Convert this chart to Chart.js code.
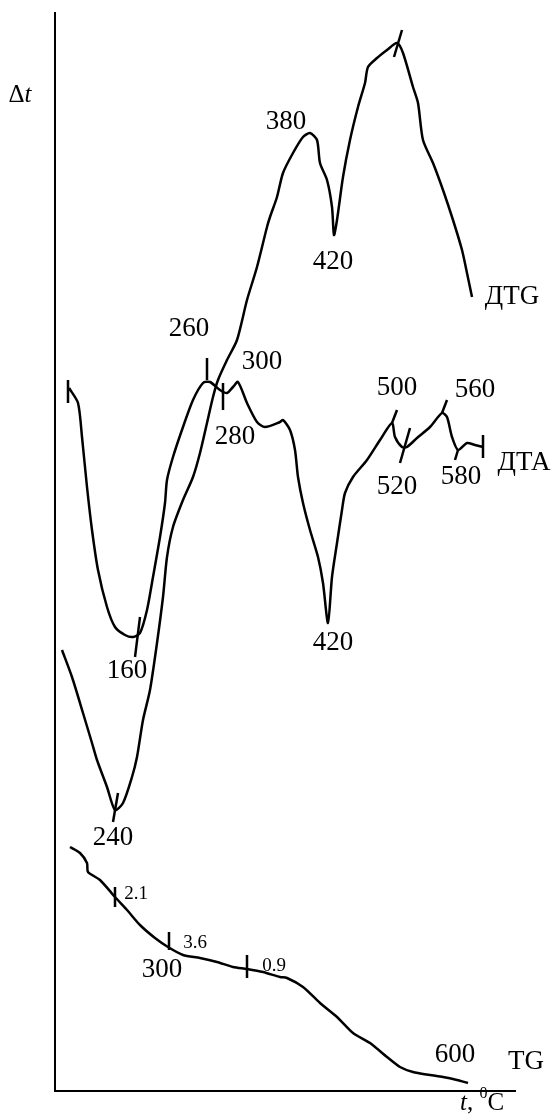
<!DOCTYPE html>
<html>
<head>
<meta charset="utf-8">
<script src="https://cdn.jsdelivr.net/npm/chart.js@4.4.1/dist/chart.umd.min.js"></script>
<style>
  html, body { margin: 0; padding: 0; background: #fff; }
  canvas { display: block; }
</style>
</head>
<body>
<canvas id="graph" width="556" height="1115"></canvas>
<script>
// curves in arbitrary units: x = temperature axis, y = signal height above baseline
const dtaCurve = [
  [14, 703], [23, 688], [27, 654], [32, 604], [37, 561], [43, 521], [52, 484],
  [60, 464], [70, 456], [78, 454], [85, 458], [92, 481], [98, 514], [105, 554],
  [110, 588], [112, 611], [118, 634], [128, 664], [138, 691], [148, 708],
  [155, 709], [165, 701], [172, 698], [178, 704], [183, 709], [192, 688],
  [202, 669], [210, 664], [225, 669], [228, 671], [235, 661], [240, 641],
  [243, 614], [248, 588], [255, 561], [263, 534], [268, 508], [273, 468],
  [277, 514], [282, 548], [287, 581], [290, 598], [298, 614], [312, 631],
  [325, 651], [337, 668], [340, 654], [347, 644], [352, 644], [362, 653],
  [375, 664], [387, 678], [392, 674], [397, 654], [403, 641], [412, 648],
  [420, 646], [428, 644]
];

const dtgCurve = [
  [7, 441], [17, 414], [28, 378], [37, 348], [42, 331], [52, 304], [60, 281],
  [68, 288], [77, 314], [82, 334], [88, 371], [95, 401], [102, 448], [108, 494],
  [112, 534], [118, 564], [128, 591], [138, 614], [145, 638], [152, 668],
  [158, 694], [163, 711], [172, 731], [182, 751], [192, 791], [202, 824],
  [212, 864], [215, 874], [222, 894], [228, 918], [238, 938], [248, 954],
  [255, 958], [262, 951], [265, 928], [272, 911], [277, 884], [279, 856],
  [282, 871], [288, 914], [295, 951], [303, 984], [310, 1008], [313, 1024],
  [322, 1033], [332, 1041], [342, 1048], [348, 1038], [358, 1004], [363, 988],
  [368, 951], [378, 928], [388, 901], [398, 871], [407, 841], [412, 818],
  [417, 794]
];

const tgCurve = [
  [15, 244], [25, 238], [32, 228], [33, 219], [45, 211], [60, 194], [72, 181],
  [85, 166], [100, 153], [113, 144], [128, 136], [145, 133], [162, 129],
  [178, 124], [192, 122], [208, 119], [225, 114], [232, 113], [248, 104],
  [265, 88], [282, 74], [298, 58], [315, 48], [332, 34], [345, 24], [358, 19],
  [375, 16], [388, 14], [402, 11], [413, 8]
];

// short marker strokes across the curves: [x1, y1, x2, y2]
const markers = [
  [13, 711, 13, 688], [85, 474, 80, 434], [152, 733, 152, 711],
  [168, 708, 168, 681], [342, 681, 337, 668], [355, 663, 345, 628],
  [392, 691, 387, 678], [403, 641, 400, 631], [428, 656, 428, 633],
  [63, 298, 58, 269], [347, 1061, 339, 1034],
  [60, 204, 60, 184], [114, 159, 114, 141], [192, 136, 192, 113]
];

// temperature labels and curve names
const peakLabels = ["380", "420", "ДТG", "260", "300", "280", "500", "560",
  "520", "580", "ДТА", "420", "160", "240", "300", "600", "TG"];
const peakLabelX = [231, 278, 457, 134, 207, 180, 342, 420, 342, 406, 469,
  278, 72, 58, 107, 400, 471];
const peakLabelY = [969, 829, 794, 762, 729, 654, 703, 701, 604, 614, 628,
  448, 420, 253, 121, 36, 29];

// mass loss values on TG
const lossLabels = ["2.1", "3.6", "0.9"];
const lossLabelX = [81, 140, 219];
const lossLabelY = [197, 148, 125];

const toPoints = arr => arr.map(p => ({ x: p[0], y: p[1] }));

const lineStyle = {
  borderColor: "#000",
  borderWidth: 2.5,
  pointRadius: 0,
  fill: false,
  clip: false
};

const datasets = [
  { ...lineStyle, label: "DTA", data: toPoints(dtaCurve), tension: 0.25 },
  { ...lineStyle, label: "DTG", data: toPoints(dtgCurve), tension: 0.25 },
  { ...lineStyle, label: "TG", data: toPoints(tgCurve), tension: 0.25 }
];
markers.forEach((m, i) => {
  datasets.push({
    ...lineStyle,
    label: "mark" + i,
    data: [{ x: m[0], y: m[1] }, { x: m[2], y: m[3] }],
    tension: 0
  });
});

const drawParts = (ctx, parts, cx, cy) => {
  // parts: [text, font, dy]
  let total = 0;
  parts.forEach(p => {
    ctx.font = p[1];
    total += ctx.measureText(p[0]).width;
  });
  let x = cx - total / 2;
  parts.forEach(p => {
    ctx.font = p[1];
    ctx.fillText(p[0], x, cy + (p[2] || 0));
    x += ctx.measureText(p[0]).width;
  });
};

const textPlugin = {
  id: "texts",
  afterDatasetsDraw(chart) {
    const { ctx, scales: { x, y } } = chart;
    ctx.save();
    ctx.fillStyle = "#000";
    ctx.textBaseline = "middle";
    ctx.textAlign = "center";
    ctx.font = "27px 'Liberation Serif'";
    peakLabels.forEach((t, i) => {
      ctx.fillText(t, x.getPixelForValue(peakLabelX[i]), y.getPixelForValue(peakLabelY[i]));
    });
    ctx.font = "19px 'Liberation Serif'";
    lossLabels.forEach((t, i) => {
      ctx.fillText(t, x.getPixelForValue(lossLabelX[i]), y.getPixelForValue(lossLabelY[i]));
    });
    // axis titles
    ctx.textAlign = "left";
    drawParts(ctx, [
      ["Δ", "25px 'Liberation Serif'"],
      ["t", "italic 25px 'Liberation Serif'"]
    ], x.left - 35, y.getPixelForValue(996));
    drawParts(ctx, [
      ["t", "italic 25px 'Liberation Serif'"],
      [", ", "25px 'Liberation Serif'"],
      ["0", "16px 'Liberation Serif'", -9],
      ["C", "25px 'Liberation Serif'"]
    ], x.getPixelForValue(427), y.getPixelForValue(-12));
    ctx.restore();
  }
};

const graph = document.getElementById("graph").getContext("2d");
new Chart(graph, {
  type: "line",
  data: { datasets },
  options: {
    responsive: false,
    animation: false,
    devicePixelRatio: 1,
    layout: { padding: { left: 55, right: 41, top: 13, bottom: 24 } },
    plugins: { legend: { display: false }, tooltip: { enabled: false } },
    scales: {
      x: {
        type: "linear",
        min: 0,
        max: 460,
        ticks: { display: false },
        grid: { display: false, drawTicks: false },
        border: { display: true, color: "#000", width: 2 },
        afterFit: s => { s.height = 0; }
      },
      y: {
        type: "linear",
        min: 0,
        max: 1078,
        ticks: { display: false },
        grid: { display: false, drawTicks: false },
        border: { display: true, color: "#000", width: 2 },
        afterFit: s => { s.width = 0; }
      }
    }
  },
  plugins: [textPlugin]
});
</script>
</body>
</html>
